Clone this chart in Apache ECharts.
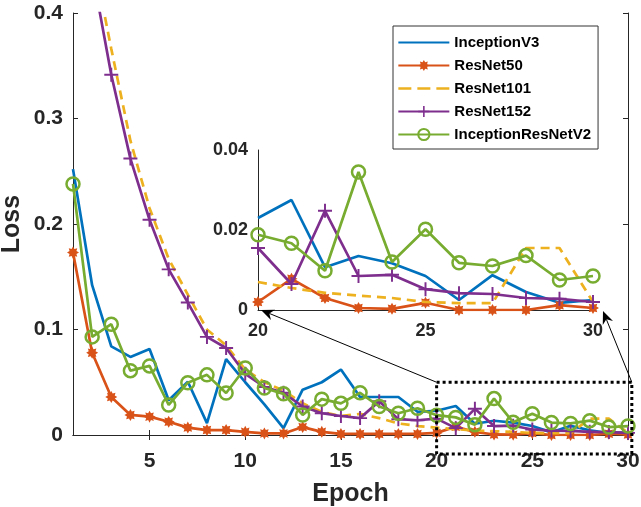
<!DOCTYPE html>
<html><head><meta charset="utf-8">
<script src="https://cdn.jsdelivr.net/npm/echarts@6/dist/echarts.min.js"></script>
<style>html,body{margin:0;padding:0;background:#fff}#c{width:641px;height:507px}</style>
</head><body><div id="c"></div>
<script>
// ---- data ----
const epochs = [1,2,3,4,5,6,7,8,9,10,11,12,13,14,15,16,17,18,19,20,21,22,23,24,25,26,27,28,29,30];
const seriesNames = ['InceptionV3','ResNet50','ResNet101','ResNet152','InceptionResNetV2'];
const inceptionV3 = [0.252,0.142,0.084,0.074,0.0815,0.033,0.0505,0.0113,0.072,0.050,0.029,0.0066,0.043,0.050,0.062,0.036,0.036,0.036,0.022,0.023,0.0275,0.0107,0.0135,0.0117,0.0085,0.0025,0.0087,0.0045,0.0018,0.0025];
const resNet50 = [0.173,0.078,0.036,0.019,0.0174,0.0126,0.007,0.0047,0.0047,0.003,0.0015,0.0015,0.0075,0.003,0.001,0.001,0.001,0.001,0.001,0.002,0.0078,0.003,0.0005,0.0003,0.0018,0.0,0.0,0.0,0.0012,0.0005];
const resNet101 = [0.65,0.458,0.366,0.279,0.215,0.167,0.133,0.1,0.085,0.062,0.05,0.042,0.03,0.022,0.018,0.02,0.016,0.011,0.0085,0.007,0.0055,0.0043,0.0036,0.003,0.002,0.0017,0.0017,0.0155,0.0155,0.002];
const resNet152 = [0.62,0.44,0.3415,0.262,0.204,0.157,0.1255,0.093,0.0825,0.058,0.0455,0.040,0.027,0.0206,0.018,0.016,0.032,0.015,0.014,0.0155,0.0065,0.0248,0.0085,0.0088,0.0052,0.0042,0.004,0.003,0.0028,0.002];
const inceptionResNetV2 = [0.238,0.093,0.105,0.061,0.0655,0.0285,0.0496,0.057,0.0398,0.0635,0.0446,0.039,0.019,0.034,0.030,0.040,0.027,0.0206,0.0253,0.0188,0.0167,0.0098,0.0345,0.012,0.0202,0.0118,0.011,0.0136,0.0075,0.0085];
const mainXTicks = [5,10,15,20,25,30];
const mainYTicks = [0,0.1,0.2,0.3,0.4];
const insetXTicks = [20,25,30];
const insetYTicks = [0,0.02,0.04];
const insetStartEpoch = 20;
// zoom box (data coordinates of main axes)
const zoomBox = {x0:20, x1:30.2, y0:-0.018, y1:0.05};

// ---- styles ----
const FONT = '"Liberation Sans", Arial, Helvetica, sans-serif';
const TXT = '#262626';
const colors = ['#0072BD','#D95319','#EDB120','#7E2F8E','#77AC30'];
const allValues = [inceptionV3,resNet50,resNet101,resNet152,inceptionResNetV2];

function starPath(){
  let p=[];
  for(let i=0;i<16;i++){
    const a=i*Math.PI/8, r=(i%2===0)?1:0.62;
    p.push((i===0?'M':'L')+(r*Math.sin(a)).toFixed(3)+','+(-r*Math.cos(a)).toFixed(3));
  }
  return 'path://'+p.join('')+'Z';
}
const plusPath = 'path://M-0.14,-1L0.14,-1L0.14,-0.14L1,-0.14L1,0.14L0.14,0.14L0.14,1L-0.14,1L-0.14,0.14L-1,0.14L-1,-0.14L-0.14,-0.14Z';

const symbolCfg = [
  {symbol:'none'},
  {symbol:starPath(), symbolSize:12, itemStyle:{color:colors[1]}},
  {symbol:'none'},
  {symbol:plusPath, symbolSize:14, itemStyle:{color:colors[3]}},
  {symbol:'circle', symbolSize:13, itemStyle:{color:'rgba(255,255,255,0)', borderColor:colors[4], borderWidth:2.5}}
];

function makeSeries(idx, xi, yi, startEpoch){
  const data = [];
  for(let i=0;i<epochs.length;i++){
    if(epochs[i] >= startEpoch) data.push([epochs[i], allValues[idx][i]]);
  }
  const s = {
    name: seriesNames[idx], type:'line', xAxisIndex:xi, yAxisIndex:yi,
    data, showAllSymbol:true, clip:true,
    lineStyle:{color:colors[idx], width:2.7, type: idx===2 ? [9,6] : 'solid'},
    itemStyle:{color:colors[idx]},
    emphasis:{disabled:true}, z: 2+idx
  };
  Object.assign(s, JSON.parse(JSON.stringify(symbolCfg[idx])));
  return s;
}

const series = [];
for(let i=0;i<5;i++) series.push(makeSeries(i,0,0,epochs[0]));
for(let i=0;i<5;i++) series.push(makeSeries(i,2,2,insetStartEpoch));

const axisLineStyle = {color:TXT, width:1};
const labelBase = {color:TXT, fontFamily:FONT, fontWeight:'bold'};

const legendData = seriesNames.map((n,i)=> {
  if(i===0) return {name:n, itemStyle:{opacity:0}};
  if(i===2) return {name:n, itemStyle:{opacity:0}, lineStyle:{type:[13,6], width:2.7}};
  return {name:n};
});

const option = {
  animation:false,
  backgroundColor:'#fff',
  grid:[
    {left:73, right:13, top:13, bottom:72, outerBoundsMode:'none', containLabel:false},
    {left:258, width:335, top:150, height:160, outerBoundsMode:'none', containLabel:false}
  ],
  xAxis:[
    {type:'value', gridIndex:0, min:1, max:30, position:'bottom',
     axisLine:{show:true, lineStyle:axisLineStyle},
     axisTick:{show:true, inside:true, length:5, customValues:mainXTicks, lineStyle:axisLineStyle},
     axisLabel:{...labelBase, fontSize:21, margin:16, customValues:mainXTicks},
     splitLine:{show:false},
     name:'Epoch', nameLocation:'middle', nameGap:47,
     nameTextStyle:{...labelBase, fontSize:25}},
    {type:'value', gridIndex:0, min:1, max:30, position:'top',
     axisLine:{show:true, lineStyle:axisLineStyle},
     axisTick:{show:true, inside:true, length:5, customValues:mainXTicks, lineStyle:axisLineStyle},
     axisLabel:{show:false}, splitLine:{show:false}},
    {type:'value', gridIndex:1, min:20, max:30, interval:5,
     axisLine:{show:true, onZero:false, lineStyle:axisLineStyle},
     axisTick:{show:false},
     axisLabel:{...labelBase, fontSize:18, margin:12},
     splitLine:{show:false}}
  ],
  yAxis:[
    {type:'value', gridIndex:0, min:0, max:0.4, interval:0.1, position:'left',
     axisLine:{show:true, lineStyle:axisLineStyle},
     axisTick:{show:true, inside:true, length:5, lineStyle:axisLineStyle},
     axisLabel:{...labelBase, fontSize:21, margin:10, formatter:v=>String(+v.toFixed(2))},
     splitLine:{show:false},
     name:'Loss', nameLocation:'middle', nameGap:48, nameMoveOverlap:false,
     nameTextStyle:{...labelBase, fontSize:25}},
    {type:'value', gridIndex:0, min:0, max:0.4, interval:0.1, position:'right',
     axisLine:{show:true, lineStyle:axisLineStyle},
     axisTick:{show:true, inside:true, length:5, lineStyle:axisLineStyle},
     axisLabel:{show:false}, splitLine:{show:false}},
    {type:'value', gridIndex:1, min:0, max:0.04, interval:0.02,
     axisLine:{show:true, onZero:false, lineStyle:axisLineStyle},
     axisTick:{show:false},
     axisLabel:{...labelBase, fontSize:18, margin:10, formatter:v=>String(+v.toFixed(3))},
     splitLine:{show:false}}
  ],
  legend:{
    data:legendData, orient:'vertical', left:393, top:26,
    itemWidth:51, itemHeight:14, itemGap:8,
    padding:[9,7,7,4], borderColor:'#333', borderWidth:1, backgroundColor:'#fff',
    textStyle:{fontFamily:FONT, fontWeight:'bold', fontSize:15, color:'#000'},
    selectedMode:false
  },
  series
};

const chart = echarts.init(document.getElementById('c'), null, {renderer:'canvas'});
chart.setOption(option);

// ---- annotation: dotted zoom box and arrows ----
const tl = chart.convertToPixel({seriesIndex:0}, [zoomBox.x0, zoomBox.y1]);
const br = chart.convertToPixel({seriesIndex:0}, [zoomBox.x1, zoomBox.y0]);
const i0 = chart.convertToPixel({seriesIndex:5}, [insetXTicks[0], 0]);
const i1 = chart.convertToPixel({seriesIndex:5}, [insetXTicks[insetXTicks.length-1], 0]);

function arrow(from, to){
  const dx=to[0]-from[0], dy=to[1]-from[1], L=Math.hypot(dx,dy);
  const ux=dx/L, uy=dy/L, nx=-uy, ny=ux;
  const len=13, hw=5.5, notch=9;
  const back=[to[0]-ux*len, to[1]-uy*len];
  const mid=[to[0]-ux*notch, to[1]-uy*notch];
  return [
    {type:'line', shape:{x1:from[0],y1:from[1],x2:mid[0],y2:mid[1]}, style:{stroke:'#000', lineWidth:1}, z:100},
    {type:'polygon', shape:{points:[to,[back[0]+nx*hw, back[1]+ny*hw], mid, [back[0]-nx*hw, back[1]-ny*hw]]}, style:{fill:'#000'}, z:100}
  ];
}
const graphics = [
  {type:'rect', shape:{x:tl[0], y:tl[1], width:br[0]-tl[0], height:br[1]-tl[1]},
   style:{fill:'none', stroke:'#000', lineWidth:3, lineDash:[3,3]}, z:100},
  ...arrow([tl[0], tl[1]], [i0[0]+3, i0[1]]),
  ...arrow([br[0], tl[1]], [i1[0]+10, i1[1]+1])
];
chart.setOption({graphic:graphics});
</script></body></html>
